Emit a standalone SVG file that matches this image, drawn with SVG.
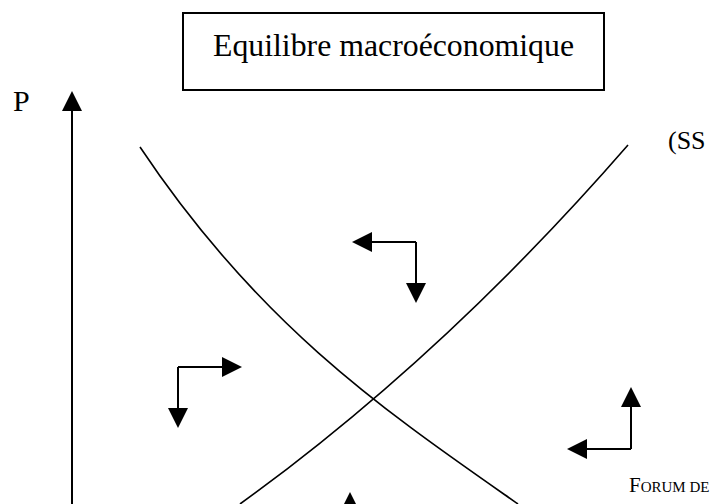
<svg xmlns="http://www.w3.org/2000/svg" width="713" height="504" viewBox="0 0 713 504">
  <style>
    .txt { font-family: "Liberation Serif", "Times New Roman", serif; fill: #000; }
    .curve { fill: none; stroke: #000; stroke-width: 1.6; }
    .arr { fill: none; stroke: #000; stroke-width: 2; marker-end: url(#ah); }
    .box { fill: #fff; stroke: #000; stroke-width: 2; }
  </style>
  <defs>
    <marker id="ah" viewBox="0 0 20 20" refX="0" refY="10" markerWidth="20" markerHeight="20" markerUnits="userSpaceOnUse" orient="auto">
      <path d="M0,0 L20,10 L0,20 Z" fill="#000"/>
    </marker>
  </defs>
  <rect width="713" height="504" fill="#fff"/>

  <g id="title">
    <rect class="box" x="183" y="13" width="421" height="77"/>
    <text class="txt" x="213" y="56" font-size="32" textLength="361" lengthAdjust="spacingAndGlyphs">Equilibre macroéconomique</text>
  </g>

  <g id="axis">
    <line x1="72" y1="504" x2="72" y2="111" stroke="#000" stroke-width="2" marker-end="url(#ah)"/>
    <text class="txt" x="13" y="111" font-size="30">P</text>
  </g>

  <g id="demand">
    <path class="curve" d="M140,147 C260,327 388,413 518,504"/>
  </g>

  <g id="supply">
    <path class="curve" d="M628,145 C498,294.5 370,410 240,504"/>
    <text class="txt" x="668" y="149" font-size="26">(SS</text>
  </g>

  <g id="connectors">
    <g id="arrows-top">
      <path class="arr" d="M416,242 L372,242"/>
      <path class="arr" d="M416,242 L416,283"/>
    </g>
    <g id="arrows-left">
      <path class="arr" d="M178,367 L222,367"/>
      <path class="arr" d="M178,367 L178,408"/>
    </g>
    <g id="arrows-right">
      <path class="arr" d="M631,449 L631,407"/>
      <path class="arr" d="M631,449 L587,449"/>
    </g>
    <g id="arrows-bottom">
      <path class="arr" d="M350,540 L350,512"/>
    </g>
  </g>

  <g id="footer">
    <text class="txt" x="629" y="492"><tspan font-size="21">F</tspan><tspan font-size="15">ORUM DE</tspan></text>
  </g>
</svg>
